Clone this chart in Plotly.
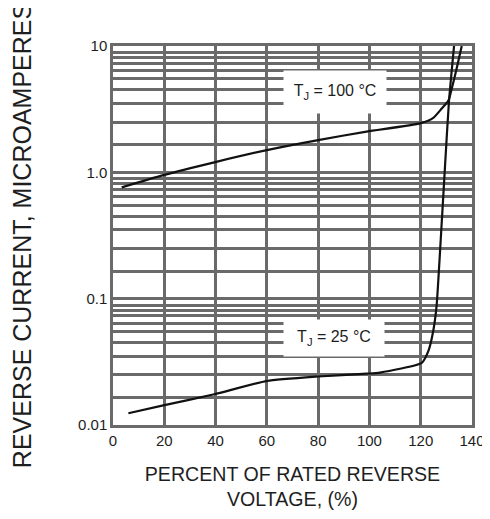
import plotly.graph_objects as go

# ---- data ----
pct_100 = [3.4, 19.6, 39.5, 60, 80, 98.9, 120, 124.9, 128.2, 130.8, 132.1, 134.0, 136]
cur_100 = [0.76, 0.95, 1.2, 1.5, 1.8, 2.1, 2.45, 2.7, 3.2, 3.7, 4.6, 6.6, 10]

pct_25 = [6, 19.6, 39.5, 60, 80, 98.9, 104.1, 120.4, 123, 124.9, 126.2, 127.9, 129.5, 131, 133]
cur_25 = [0.0124, 0.0143, 0.0175, 0.0223, 0.0242, 0.0255, 0.026, 0.031, 0.0386, 0.0557, 0.088, 0.316, 1.14, 3.6, 10]

x_ticks = [0, 20, 40, 60, 80, 100, 120, 140]
y_decades = [0.01, 0.1, 1, 10]
y_decade_labels = ["0.01", "0.1", "1.0", "10"]
grid_mult = [1.65, 2.5, 3.5, 4.5, 5.5, 6.4, 7.3, 8.1, 8.9]  # printed grid rulings per decade

label_100 = "T<sub>J</sub> = 100 °C"
label_25 = "T<sub>J</sub> = 25 °C"

FONT = "Liberation Sans, Arial, sans-serif"
GRID = "#6a6a6a"
INK = "#1e1e1e"

minor_vals = [d * m for d in y_decades[:-1] for m in grid_mult]

fig = go.Figure()
fig.add_trace(go.Scatter(x=pct_100, y=cur_100, mode="lines",
                         line=dict(color="#111", width=2.2, shape="spline", smoothing=0.6),
                         showlegend=False, hoverinfo="skip"))
fig.add_trace(go.Scatter(x=pct_25, y=cur_25, mode="lines",
                         line=dict(color="#111", width=2.2, shape="spline", smoothing=0.5),
                         showlegend=False, hoverinfo="skip"))

fig.add_annotation(x=86.5, y=0.635, xref="x", yref="y", text=label_100, showarrow=False,
                   font=dict(family=FONT, size=16, color=INK), bgcolor="white",
                   width=100, height=40)
fig.add_annotation(x=86, y=-1.31, xref="x", yref="y", text=label_25, showarrow=False,
                   font=dict(family=FONT, size=16, color=INK), bgcolor="white",
                   width=98, height=34)

fig.update_xaxes(range=[0, 140], tickvals=x_ticks, showgrid=True, gridcolor=GRID, gridwidth=2.5,
                 zeroline=False, showline=True, linecolor=GRID, linewidth=2.5, mirror=True,
                 automargin=False,
                 ticks="", tickfont=dict(family=FONT, size=15, color=INK),
                 title=dict(text="PERCENT OF RATED REVERSE<br>VOLTAGE, (%)",
                            font=dict(family=FONT, size=19.6, color=INK), standoff=20))
fig.update_yaxes(type="log", range=[-2, 1], tickvals=y_decades, ticktext=y_decade_labels,
                 showgrid=True, gridcolor=GRID, gridwidth=2.5,
                 minor=dict(tickvals=minor_vals, showgrid=True, gridcolor=GRID, gridwidth=2.5, ticks=""),
                 zeroline=False, showline=True, linecolor=GRID, linewidth=2.5, mirror=True,
                 automargin=False,
                 ticks="", tickfont=dict(family=FONT, size=15, color=INK),
                 title=dict(text="REVERSE CURRENT, MICROAMPERES",
                            font=dict(family=FONT, size=25, color=INK), standoff=44))

# page body adds an 8px offset, so the figure is sized/margined to land on the reference frame
fig.update_layout(width=482, height=511, margin=dict(l=105, r=18, t=38, b=94),
                  paper_bgcolor="white", plot_bgcolor="white")

fig.write_html("out.html")
